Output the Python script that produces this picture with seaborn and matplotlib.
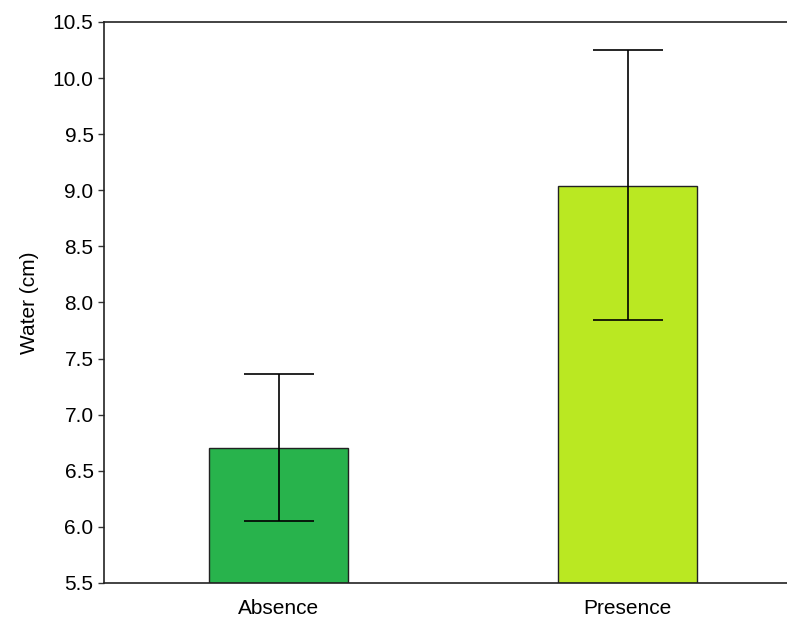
import pandas as pd
import seaborn as sns
import matplotlib.pyplot as plt

categories = ["Absence", "Presence"]
means = [6.70, 9.04]
err_low = [6.05, 7.84]
err_high = [7.36, 10.25]
colors = ["#28b34c", "#bae822"]


def main():
    df = pd.DataFrame({"group": categories, "water": means})
    sns.set_style("white")
    plt.rcParams['font.family'] = ['Liberation Sans', 'DejaVu Sans']
    plt.rcParams['text.color'] = 'black'

    fig = plt.figure(figsize=(7.87, 6.19), dpi=100)
    # axes runs past the right edge, as in the original
    ax = fig.add_axes([104 / 787, 36 / 619, 698 / 787, 561 / 619])

    sns.barplot(data=df, x="group", y="water", hue="group", palette=colors,
                saturation=1, width=0.4, errorbar=None, edgecolor="#222222",
                linewidth=1, legend=False, ax=ax)
    for b in ax.patches:
        # bars start at the bottom of the axis
        b.set_y(5.5)
        b.set_height(b.get_height() - 5.5)

    yerr = [[m - lo for m, lo in zip(means, err_low)],
            [hi - m for m, hi in zip(means, err_high)]]
    ax.errorbar(range(len(categories)), means, yerr=yerr, fmt="none",
                ecolor="black", elinewidth=1.2, capsize=25.5, capthick=1.2)

    ax.set_ylim(5.5, 10.5)
    ax.set_xlim(-0.5, 1.5)
    ax.set_yticks([5.5 + 0.5 * i for i in range(11)])
    ax.yaxis.set_major_formatter(plt.FormatStrFormatter("%.1f"))
    ax.set_xlabel("")
    ax.set_ylabel("Water (cm)", fontsize=15, labelpad=10, color="black")
    ax.tick_params(axis="y", direction="out", length=4, width=1, left=True,
                   labelsize=15, color="#333333", labelcolor="black")
    ax.tick_params(axis="x", bottom=False, labelsize=15, pad=8,
                   labelcolor="black")
    for s in ["left", "top", "bottom"]:
        ax.spines[s].set_color("#222222")
        ax.spines[s].set_linewidth(1.2)
    ax.spines["right"].set_visible(False)

    fig.savefig("out.png", dpi=100)


if __name__ == '__main__':
    main()
